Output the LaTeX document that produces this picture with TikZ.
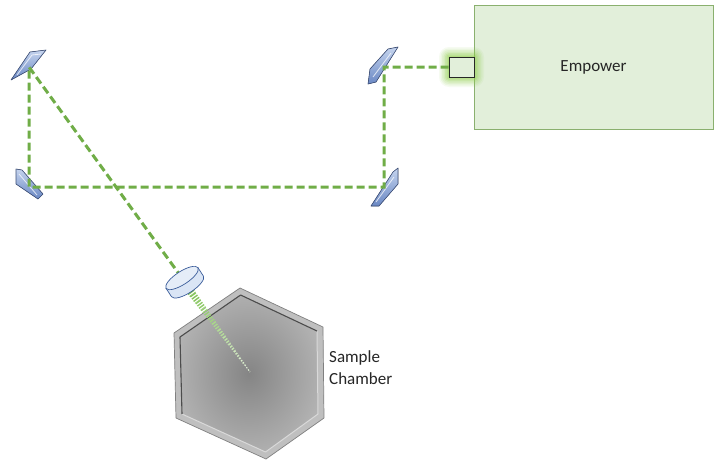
\documentclass[tikz,border=0pt]{standalone}
\usepackage{fontspec}
\setmainfont{Carlito}
\usetikzlibrary{calc}
\definecolor{beamc}{HTML}{70AD47}
\definecolor{beamlt}{HTML}{7CC04F}
\definecolor{glowc}{HTML}{92D050}
\definecolor{boxfill}{HTML}{E2EFDA}
\definecolor{boxline}{HTML}{8AB06E}
\definecolor{mirlt}{HTML}{C5D4EE}
\definecolor{mirdk}{HTML}{6A88C4}
\definecolor{mirline}{HTML}{3E5079}
\definecolor{lensfill}{HTML}{DAE5F5}
\definecolor{lensline}{HTML}{3A5C9A}
\definecolor{chdark}{HTML}{858585}
\definecolor{chlight}{HTML}{D2D2D2}
\pgfdeclareradialshading{chambershade}{\pgfpoint{0bp}{0bp}}{%
  color(0bp)=(chdark); color(46bp)=(chlight); color(75bp)=(chlight)}
\tikzset{
  beamline/.style={draw=beamc, line width=3pt, dash pattern=on 8pt off 4pt},
  mirror/.style={draw=mirline, line width=0.6pt, top color=mirlt, bottom color=mirdk, line join=round},
  facet/.style={draw=white, line width=0.8pt, opacity=0.75},
  lensbody/.style={draw=lensline, line width=0.7pt, fill=lensfill},
  labeltext/.style={font=\fontsize{17}{22}\selectfont, text=black!85},
}
\begin{document}
\begin{tikzpicture}[x=1pt,y=-1pt]
\useasboundingbox (0,0) rectangle (714,461);
\fill[white] (0,0) rectangle (714,461);

% beam turning points
\coordinate (mTR) at (384,67);
\coordinate (mBR) at (384,187);
\coordinate (mBL) at (29,187);
\coordinate (mTL) at (29,67);
\coordinate (lensT) at (182,278);
\coordinate (lensB) at ($(lensT)+(5.4,9.2)$);
\coordinate (hc) at (250,372);

% sample chamber
\filldraw[fill=black!25, draw=black!50, line width=0.7pt, line join=round]
  (240,288) -- (323,327) -- (324,418) -- (266,459) -- (176,418) -- (174,333) -- cycle;
\shade[shading=chambershade]
  (240.6,295) -- (317,331) -- (318,414) -- (265.5,452) -- (182,414) -- (180,337) -- cycle;
\draw[white!85!black, line width=1pt, line join=round]
  (317,331) -- (318,414) -- (265.5,452) -- (182,414);
\draw[black!70, line width=1.1pt, line join=round]
  (182,414) -- (180,337) -- (240.6,295) -- (317,331);
\node[labeltext, align=left, anchor=west, inner sep=0pt] (lbl) at (329,368) {Sample\\Chamber};

% focused beam inside the chamber
\foreach \i in {0,...,11} {
  \pgfmathsetmacro\wa{7.5-0.58*\i}
  \pgfmathsetmacro\op{100-7*\i}
  \draw[line width=\wa pt, beamlt!\op!white, dash pattern=on 1.4pt off 1.4pt]
    ($(lensB)!{\i/12}!(hc)$) -- ($(lensB)!{(\i+1)/12}!(hc)$);
}

% Empower unit and its output port
\node[draw=boxline, fill=boxfill, line width=0.8pt, minimum width=239pt,
      minimum height=124pt, inner sep=0pt, labeltext] (emp) at (593.5,67) {Empower};
\foreach \r/\o in {10/0.08, 8.5/0.10, 7/0.12, 5.5/0.15, 4/0.18, 2.5/0.22, 1/0.25} {
  \fill[glowc, opacity=\o, rounded corners=\r pt]
    (449-\r,57-\r) rectangle (474+\r,77+\r);
}
\node[draw=black!85, fill=boxfill, line width=0.8pt, minimum width=25pt,
      minimum height=20pt, inner sep=0pt] (sq) at (461.5,67) {};

% mirrors
\filldraw[mirror] (11,80) -- (30,52) -- (46,50) -- (31,69) -- cycle;
\draw[facet] (17,75) -- (32,55) -- (41,54);
\filldraw[mirror] (16,169) -- (22,170) -- (43,194) -- (38,199) -- (16,184) -- cycle;
\draw[facet] (19,174) -- (37,195);
\filldraw[mirror] (368,84) -- (370,69) -- (388,49) -- (398,47) -- (376,82) -- cycle;
\draw[facet] (373,77) -- (391,53);
\filldraw[mirror] (371,206) -- (393,172) -- (398,168) -- (398,184) -- (379,206) -- cycle;
\draw[facet] (376,202) -- (394,177);

% laser beam path
\draw[beamline] (sq.west) -- (mTR) -- (mBR) -- (mBL) -- (mTL) -- (lensT);

% focusing lens
\begin{scope}[shift={(lensT)}, rotate=33]
  \filldraw[lensbody] (-19,0) -- (-19,10)
    arc[start angle=180, end angle=360, x radius=19pt, y radius=6.5pt] -- (19,0) -- cycle;
  \filldraw[lensbody, fill=lensfill!70!white] (0,0) ellipse[x radius=19pt, y radius=6.5pt];
\end{scope}
\end{tikzpicture}
\end{document}
